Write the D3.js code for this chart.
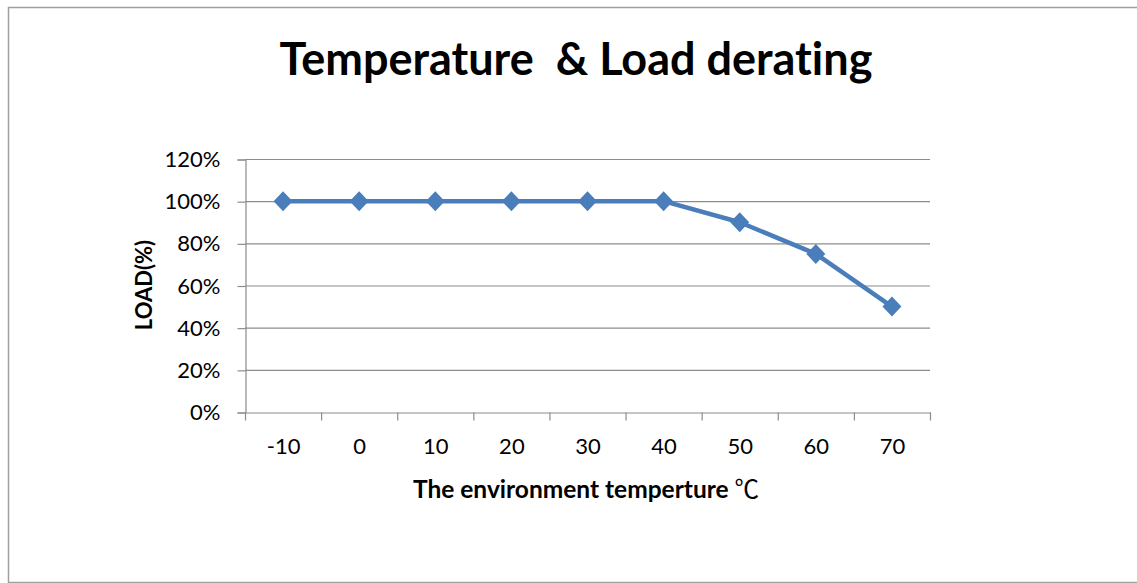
<!DOCTYPE html>
<html><head><meta charset="utf-8">
<script src="https://cdn.jsdelivr.net/npm/d3@7"></script>
<style>body{margin:0;background:#fff}svg{display:block}text{font-variant-ligatures:none;font-feature-settings:"liga" 0}</style>
</head><body>
<svg id="c" width="1137" height="583"></svg>
<script>
const categories = ["-10","0","10","20","30","40","50","60","70"];
const loadValues = [1.00,1.00,1.00,1.00,1.00,1.00,0.90,0.75,0.50];
const yTicks = [0,0.2,0.4,0.6,0.8,1.0,1.2];
const title = "Temperature  & Load derating";
const xTitle = "The environment temperture ";
const xUnit = "\u2103";
const yTitle = "LOAD(%)";

const svg = d3.select("#c");
const font = "Lato, 'Open Sans', sans-serif";
svg.append("rect").attr("x",8.5).attr("y",7.5).attr("width",1140).attr("height",575)
  .attr("fill","#fff").attr("stroke","#a0a0a0").attr("stroke-width",1.5);

const m = {l:245, r:930, t:159, b:412};
const x = d3.scaleBand().domain(categories).range([m.l,m.r]);
const y = d3.scaleLinear().domain([0,1.2]).range([m.b,m.t]);

// gridlines
svg.append("g").selectAll("line").data(yTicks.filter(d=>d>0)).join("line")
  .attr("x1",m.l).attr("x2",m.r).attr("y1",d=>y(d)+0.5).attr("y2",d=>y(d)+0.5)
  .attr("stroke","#8c8c8c").attr("stroke-width",1.2);

// y axis
const ya = svg.append("g").attr("transform",`translate(${m.l+0.5},0.5)`)
  .call(d3.axisLeft(y).tickValues(yTicks).tickFormat(d3.format(".0%")).tickSize(8).tickPadding(17));
ya.selectAll("path,line").attr("stroke","#8c8c8c").attr("stroke-width",1.2);
ya.selectAll("text").attr("font-family",font).attr("font-size",22).attr("fill","#000");

// x axis
const xa = svg.append("g").attr("transform",`translate(0.5,${m.b+0.5})`)
  .call(d3.axisBottom(x).tickSize(0).tickPadding(26));
xa.select("path").attr("stroke","#8c8c8c").attr("stroke-width",1.2);
xa.selectAll("text").attr("font-family",font).attr("font-size",22).attr("fill","#000");
const bounds = categories.map(c=>x(c)).concat([m.r]);
xa.selectAll("line.bt").data(bounds).join("line").attr("class","bt")
  .attr("x1",d=>d).attr("x2",d=>d).attr("y1",0).attr("y2",8)
  .attr("stroke","#8c8c8c").attr("stroke-width",1.2);

// line
const cx = d=>x(d)+x.bandwidth()/2;
const pts = categories.map((c,i)=>[cx(c),y(loadValues[i])]);
svg.append("path").datum(pts).attr("d",d3.line())
  .attr("fill","none").attr("stroke","#4a7ebb").attr("stroke-width",4.5).attr("stroke-linejoin","round");
svg.append("g").selectAll("path").data(pts).join("path")
  .attr("d",d=>`M${d[0]},${d[1]-10}L${d[0]+9.5},${d[1]}L${d[0]},${d[1]+10}L${d[0]-9.5},${d[1]}Z`)
  .attr("fill","#4a7ebb");

// titles
svg.append("text").attr("x",576).attr("y",75).attr("text-anchor","middle")
  .attr("font-family",font).attr("font-weight","bold").attr("font-size",45)
  .style("white-space","pre").text(title);
const xt = svg.append("text").attr("x",586).attr("y",498).attr("text-anchor","middle")
  .attr("font-family",font).attr("font-weight","bold").attr("font-size",24.5)
  .style("white-space","pre");
xt.append("tspan").text(xTitle);
xt.append("tspan").attr("font-family","'Noto Sans CJK SC', sans-serif").attr("font-weight","normal").text(xUnit);
svg.append("text").attr("transform","translate(152,285) rotate(-90)").attr("text-anchor","middle")
  .attr("font-family",font).attr("font-weight","bold").attr("font-size",22).text(yTitle);
</script>
</body></html>
